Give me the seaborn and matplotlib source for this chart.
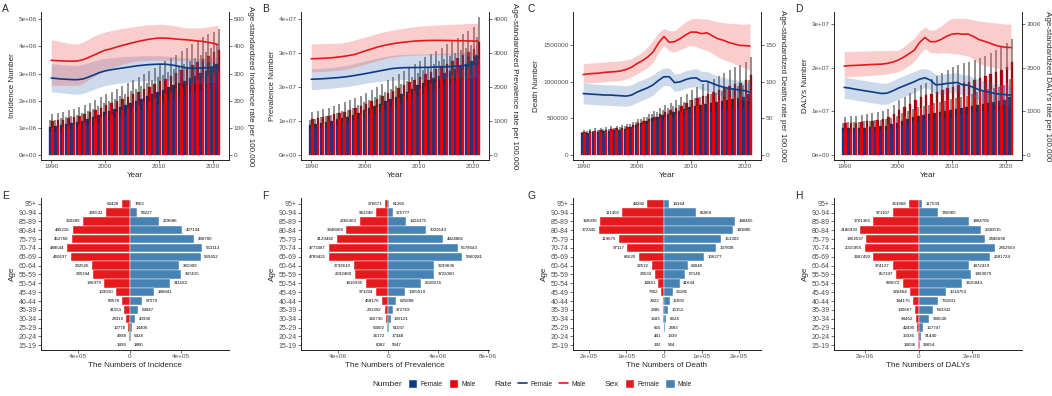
import numpy as np
import pandas as pd
import seaborn as sns
from matplotlib import pyplot as plt
from matplotlib.patches import Patch
from matplotlib.lines import Line2D
from matplotlib.ticker import FuncFormatter

sns.set_theme(style="ticks")
plt.rcParams['font.family'] = ['Liberation Sans', 'DejaVu Sans']
plt.rcParams['axes.linewidth'] = 0.7
plt.rcParams['axes.edgecolor'] = '#222222'

NUM_F, NUM_M = '#0D3B87', '#E8000B'
RATE_F, RATE_M = '#0D3B87', '#E3191C'
SEX_F, SEX_M = '#E41A1C', '#4682B4'

years = list(range(1990, 2022))

# ---- A: incidence (numbers in millions, rates per 100,000)
inc_num_f = [1.04,1.07,1.10,1.13,1.17,1.21,1.26,1.32,1.40,1.49,1.58,1.64,1.70,1.77,1.84,1.92,2.00,2.08,2.16,2.24,2.33,2.41,2.49,2.57,2.65,2.74,2.83,2.92,3.01,3.10,3.22,3.34]
inc_num_f_lo = [0.84,0.86,0.89,0.91,0.94,0.97,1.01,1.06,1.12,1.19,1.26,1.31,1.36,1.42,1.47,1.54,1.60,1.66,1.73,1.79,1.86,1.93,1.99,2.06,2.12,2.19,2.26,2.34,2.41,2.48,2.58,2.67]
inc_num_f_hi = [1.28,1.31,1.35,1.39,1.43,1.48,1.54,1.61,1.71,1.82,1.93,2.00,2.08,2.16,2.25,2.35,2.45,2.55,2.65,2.75,2.86,2.96,3.06,3.16,3.26,3.37,3.48,3.59,3.70,3.81,3.95,4.10]
inc_num_m = [1.25,1.28,1.31,1.35,1.39,1.44,1.50,1.57,1.66,1.75,1.84,1.91,1.98,2.06,2.15,2.24,2.33,2.42,2.51,2.61,2.72,2.82,2.92,3.02,3.12,3.22,3.33,3.44,3.55,3.66,3.78,3.87]
inc_num_m_lo = [1.00,1.02,1.05,1.08,1.11,1.15,1.20,1.26,1.33,1.40,1.47,1.53,1.58,1.65,1.72,1.79,1.86,1.94,2.01,2.09,2.18,2.26,2.34,2.42,2.50,2.58,2.66,2.75,2.84,2.93,3.02,3.10]
inc_num_m_hi = [1.53,1.56,1.60,1.65,1.70,1.76,1.83,1.92,2.03,2.14,2.25,2.34,2.43,2.53,2.64,2.75,2.86,2.97,3.08,3.20,3.34,3.46,3.58,3.70,3.82,3.95,4.08,4.21,4.34,4.47,4.55,4.66]
inc_rate_f = [284,282,280,279,278,278,281,288,296,304,310,314,317,320,323,326,329,331,333,334,335,335,333,330,326,322,320,320,321,322,324,327]
inc_rate_f_lo = [233,231,229,227,225,224,228,235,243,250,256,260,263,266,268,270,272,273,274,275,275,274,272,270,267,265,264,264,265,266,268,270]
inc_rate_f_hi = [337,335,333,331,330,331,335,341,347,352,356,358,360,362,363,364,365,366,366,366,366,365,364,362,360,358,357,357,357,358,359,360]
inc_rate_m = [349,348,347,346,346,347,352,360,369,378,386,391,397,403,408,413,418,422,426,429,431,431,430,428,426,425,423,421,419,416,412,407]
inc_rate_m_lo = [257,257,257,257,257,257,265,278,291,302,312,320,327,333,338,343,346,348,349,349,349,349,349,349,349,348,347,346,345,344,342,340]
inc_rate_m_hi = [425,421,417,413,410,410,417,428,439,447,453,458,462,466,469,472,475,478,480,481,482,481,479,476,472,469,468,468,469,472,475,478]

# ---- B: prevalence (numbers in 1e7)
prev_num_f = [0.88,0.91,0.94,0.97,1.01,1.05,1.09,1.13,1.18,1.25,1.32,1.38,1.44,1.51,1.58,1.65,1.72,1.79,1.86,1.96,2.06,2.13,2.20,2.27,2.34,2.41,2.48,2.55,2.62,2.69,2.76,2.95]
prev_num_f_lo = [0.75,0.77,0.80,0.82,0.86,0.89,0.93,0.96,1.00,1.06,1.12,1.17,1.22,1.28,1.34,1.40,1.46,1.52,1.58,1.67,1.75,1.81,1.87,1.93,1.99,2.05,2.11,2.17,2.23,2.29,2.35,2.51]
prev_num_f_hi = [1.04,1.07,1.11,1.14,1.19,1.24,1.29,1.33,1.39,1.48,1.56,1.63,1.70,1.78,1.86,1.95,2.03,2.11,2.19,2.31,2.43,2.51,2.60,2.68,2.76,2.84,2.93,3.01,3.09,3.17,3.26,3.48]
prev_num_m = [1.05,1.08,1.12,1.16,1.20,1.24,1.28,1.33,1.38,1.45,1.52,1.59,1.66,1.74,1.82,1.90,1.98,2.06,2.14,2.22,2.30,2.38,2.46,2.54,2.62,2.70,2.78,2.86,2.94,3.03,3.13,3.33]
prev_num_m_lo = [0.89,0.92,0.95,0.99,1.02,1.05,1.09,1.13,1.17,1.23,1.29,1.35,1.41,1.48,1.55,1.62,1.68,1.75,1.82,1.89,1.96,2.02,2.09,2.16,2.23,2.30,2.36,2.43,2.50,2.58,2.66,2.83]
prev_num_m_hi = [1.26,1.30,1.35,1.40,1.45,1.50,1.55,1.61,1.67,1.75,1.84,1.92,2.01,2.11,2.20,2.30,2.40,2.49,2.59,2.69,2.78,2.88,2.98,3.07,3.17,3.27,3.36,3.46,3.56,3.67,3.77,4.07]
prev_rate_f = [2235,2240,2250,2260,2272,2285,2300,2320,2345,2372,2400,2430,2460,2490,2520,2550,2565,2575,2580,2582,2583,2585,2590,2595,2600,2605,2610,2620,2635,2655,2678,2700]
prev_rate_f_lo = [1930,1938,1950,1962,1975,1990,2010,2030,2055,2085,2115,2140,2160,2180,2195,2205,2215,2222,2228,2232,2235,2238,2242,2246,2250,2255,2260,2266,2274,2282,2291,2300]
prev_rate_f_hi = [2550,2555,2565,2578,2592,2608,2630,2660,2695,2735,2775,2815,2850,2885,2915,2940,2955,2965,2972,2978,2982,2986,2990,2995,3000,3005,3010,3016,3022,3028,3034,3040]
prev_rate_m = [2840,2845,2852,2860,2873,2890,2910,2935,2965,3015,3070,3120,3170,3215,3250,3280,3305,3325,3342,3358,3370,3376,3380,3382,3382,3380,3378,3375,3372,3368,3364,3360]
prev_rate_m_lo = [2450,2458,2466,2475,2486,2500,2520,2550,2590,2635,2680,2725,2770,2815,2855,2890,2910,2925,2935,2943,2950,2954,2957,2959,2960,2960,2958,2955,2952,2948,2944,2940]
prev_rate_m_hi = [3280,3282,3285,3290,3295,3300,3320,3350,3390,3435,3480,3525,3570,3615,3650,3680,3710,3735,3760,3782,3800,3812,3822,3832,3842,3850,3857,3864,3870,3877,3884,3890]

# ---- C: deaths (numbers in 1e5)
death_num_f = [2.95,3.02,3.09,3.16,3.23,3.31,3.39,3.48,3.60,3.85,4.15,4.40,4.70,5.00,5.25,5.45,5.65,5.85,6.05,6.30,6.55,6.70,6.85,6.95,7.05,7.20,7.35,7.50,7.65,7.80,7.95,8.40]
death_num_f_lo = [2.74,2.80,2.86,2.92,2.98,3.05,3.11,3.19,3.29,3.50,3.76,3.97,4.22,4.47,4.67,4.82,4.97,5.12,5.27,5.45,5.64,5.73,5.81,5.86,5.91,6.00,6.09,6.18,6.26,6.34,6.42,6.72]
death_num_f_hi = [3.17,3.25,3.33,3.41,3.49,3.58,3.68,3.79,3.93,4.22,4.57,4.86,5.21,5.57,5.87,6.12,6.38,6.64,6.90,7.22,7.55,7.76,7.97,8.13,8.29,8.51,8.73,8.96,9.18,9.40,9.62,10.25]
death_num_m = [3.20,3.27,3.34,3.41,3.48,3.56,3.64,3.73,3.86,4.10,4.40,4.65,4.95,5.25,5.60,5.90,6.15,6.45,6.75,7.10,7.50,7.80,8.05,8.30,8.55,8.85,9.10,9.40,9.65,9.90,10.20,10.90]
death_num_m_lo = [2.98,3.04,3.10,3.16,3.22,3.29,3.36,3.43,3.54,3.74,3.99,4.20,4.45,4.70,4.99,5.23,5.43,5.67,5.90,6.18,6.50,6.73,6.91,7.09,7.26,7.48,7.66,7.87,8.04,8.21,8.41,8.93]
death_num_m_hi = [3.45,3.54,3.63,3.72,3.81,3.91,4.01,4.13,4.29,4.58,4.95,5.26,5.63,6.00,6.43,6.82,7.15,7.54,7.93,8.40,8.93,9.34,9.69,10.05,10.40,10.83,11.19,11.61,11.97,12.33,12.75,13.40]
death_rate_f = [84,83.5,83,82.5,82,82,81.5,81,80.5,82,86,89,92,96,102,107,107,99,100,103,105,105.5,101,101,98,95,93,91,90,89,88,86]
death_rate_f_lo = [70,69.5,69,68.5,68,68,67.5,67,66.5,68,72,75,78,82,89,95,95,87,88,91,93,93,89,88,85,82,80,78,77,76,75,73]
death_rate_f_hi = [98,97.5,97,96.5,96,96,95.5,95,94.5,96,100,103,106,110,115,119,119,111,112,115,117,118,114,114,111,108,106,104,103,102,101,99]
death_rate_m = [110,111,111.5,112,113,113.5,114,115,117,120,125,129,134,141,153,162,154,155,159,164,168,168,166,167,163,159,157,154,152,150,149.5,149]
death_rate_m_lo = [98,98.5,99,99.5,100,101,101,102,104,107,111,115,120,127,140,150,142,141,144,147,150,148,145,143,139,134,131,128,125,122,119,116]
death_rate_m_hi = [125,125.5,126,126.5,127,128,128,129,130,132,136,141,148,157,167,173,170,170,176,182,186,187,186,186,184,182,181,180,180,179,179,179]

# ---- D: DALYs (numbers in 1e6)
daly_num_f = [6.10,6.15,6.20,6.25,6.30,6.40,6.50,6.60,6.75,7.00,7.40,7.80,8.20,8.60,8.95,9.20,9.45,9.70,9.90,10.10,10.30,10.50,10.70,10.90,11.20,11.50,11.75,12.00,12.20,12.40,12.60,13.40]
daly_num_f_lo = [5.19,5.23,5.27,5.31,5.36,5.44,5.53,5.61,5.74,5.95,6.29,6.63,6.97,7.31,7.61,7.82,8.03,8.25,8.42,8.59,8.76,8.93,9.10,9.27,9.52,9.78,9.99,10.20,10.37,10.54,10.71,11.39]
daly_num_f_hi = [7.45,7.50,7.56,7.63,7.69,7.81,7.93,8.05,8.24,8.54,9.03,9.52,10.00,10.49,10.92,11.22,11.57,11.93,12.20,12.47,12.75,13.02,13.30,13.58,13.98,14.38,14.72,15.06,15.35,15.64,15.94,17.40]
daly_num_m = [7.25,7.35,7.45,7.55,7.70,7.85,8.05,8.30,8.70,9.40,10.30,11.00,11.80,12.60,13.20,13.70,14.10,14.50,14.90,15.30,15.60,16.00,16.40,16.80,17.20,17.60,18.10,18.60,19.10,19.60,20.20,21.40]
daly_num_m_lo = [5.95,6.03,6.11,6.19,6.31,6.44,6.60,6.81,7.13,7.71,8.45,9.02,9.68,10.33,10.82,11.23,11.56,11.89,12.22,12.55,12.79,13.12,13.45,13.78,14.10,14.43,14.84,15.25,15.66,16.07,16.56,17.55]
daly_num_m_hi = [8.80,8.92,9.04,9.16,9.34,9.53,9.77,10.07,10.56,11.41,12.50,13.35,14.32,15.29,16.02,16.60,17.40,18.20,18.90,19.60,20.20,20.60,21.00,21.40,21.80,22.20,22.80,23.40,24.00,24.80,25.60,26.70]
daly_rate_f = [1550,1535,1510,1490,1470,1450,1430,1410,1420,1470,1530,1580,1630,1680,1740,1770,1720,1610,1620,1640,1650,1665,1610,1600,1550,1500,1465,1440,1410,1395,1385,1375]
daly_rate_f_lo = [1300,1285,1260,1240,1220,1200,1180,1160,1170,1220,1280,1330,1380,1430,1500,1550,1500,1390,1400,1420,1430,1440,1380,1370,1320,1270,1235,1205,1175,1155,1140,1125]
daly_rate_f_hi = [1790,1770,1745,1725,1705,1685,1665,1645,1655,1705,1765,1815,1865,1915,1965,1985,1945,1840,1850,1870,1880,1895,1840,1830,1780,1730,1695,1670,1640,1625,1615,1605]
daly_rate_m = [2040,2050,2055,2060,2068,2075,2080,2085,2100,2130,2175,2240,2320,2400,2580,2695,2600,2600,2650,2720,2770,2785,2770,2775,2720,2650,2610,2570,2520,2490,2470,2465]
daly_rate_m_lo = [1790,1800,1805,1810,1818,1825,1835,1845,1860,1885,1910,1970,2050,2140,2310,2440,2350,2330,2340,2340,2330,2320,2290,2270,2200,2100,2060,2030,2000,1980,1965,1950]
daly_rate_m_hi = [2370,2375,2378,2380,2385,2390,2392,2395,2397,2398,2400,2480,2580,2680,2840,2940,2860,2880,2960,3060,3130,3140,3135,3130,3100,3075,3060,3045,3030,3015,3005,3000]

# ---- age pyramids (2021)
ages = ['95+', '90-94', '85-89', '80-84', '75-79', '70-74', '65-69', '60-64', '55-59',
        '50-54', '45-49', '40-44', '35-39', '30-34', '25-29', '20-24', '15-19']
pyr_inc_f = [63428,185532,360289,445216,452768,488544,460637,292526,285344,196979,109010,58578,41551,28319,10778,4998,1496]
pyr_inc_m = [7863,58227,229686,407134,498700,563113,549452,381909,397415,311162,186841,97579,63847,40930,14406,6424,1800]
pyr_prev_f = [276671,962248,2266363,3348068,4129482,4773387,4789421,2739610,2692460,1816935,973204,458176,291392,166736,53002,16172,6082]
pyr_prev_m = [61265,375777,1424375,3029143,4424881,5578643,5960281,3699636,3722060,2628274,1365019,625898,372769,199121,61037,17348,5947]
pyr_death_f = [44282,111302,168936,172345,119675,97117,66620,32532,24533,14841,7302,3922,2385,1583,655,441,192]
pyr_death_m = [14164,85069,188455,183885,151303,137808,106277,63040,57146,41634,23185,15091,10151,6624,2483,1339,544]
pyr_daly_f = [363968,971107,1701365,2186930,1962537,2015958,1687492,974127,857347,589072,326464,194175,130667,94462,42495,30336,14036]
pyr_daly_m = [117539,740965,1884706,2330515,2486690,2852659,2681724,1872419,1969079,1625043,1014753,731831,543332,386536,157747,91440,39654]

TICK_KW = dict(labelsize=4.6, labelcolor='#4D4D4D', length=2, width=0.5, pad=1.2, color='#333333')


def sci(v, pos=None):
    if v == 0:
        return '0e+00'
    return f"{abs(v):.0e}"


def sci_abs(v, pos=None):
    if v == 0:
        return '0'
    return f"{abs(v):.0e}"


def plain(v, pos=None):
    return f"{int(round(v))}"


def trend_panel(ax, scale, num, rate, ylabel, rlabel, ylim, yticks, rticks, yfmt):
    nf, nf_lo, nf_hi, nm, nm_lo, nm_hi = [np.array(a) * scale for a in num]
    rf, rf_lo, rf_hi, rm, rm_lo, rm_hi = rate
    yrs = np.array(years)
    df = pd.DataFrame({'year': years * 2, 'value': np.r_[nf, nm],
                       'sex': ['Female'] * len(years) + ['Male'] * len(years)})
    sns.barplot(data=df, x='year', y='value', hue='sex', hue_order=['Female', 'Male'],
                palette=[NUM_F, NUM_M], native_scale=True, errorbar=None, saturation=1,
                width=0.92, linewidth=0, legend=False, ax=ax)
    # fill the sub-pixel gaps between neighbouring bars
    for p in ax.patches:
        p.set_edgecolor(p.get_facecolor())
        p.set_linewidth(0.25)
    ax.vlines(yrs - 0.23, nf_lo, nf_hi, color='#262626', alpha=0.65, lw=1.1)
    ax.vlines(yrs + 0.23, nm_lo, nm_hi, color='#262626', alpha=0.65, lw=1.1)
    ax.set_xlim(1988.1, 2023.05)
    ax.set_ylim(*ylim)
    ax.set_xticks([1990, 2000, 2010, 2020])
    ax.set_yticks(yticks)
    ax.yaxis.set_major_formatter(FuncFormatter(yfmt))
    ax.set_xlabel('Year', fontsize=5.8, labelpad=1.5)
    ax.set_ylabel(ylabel, fontsize=5.8, labelpad=2)
    ax.tick_params(**TICK_KW)
    ax.spines['top'].set_visible(False)
    ax.spines['right'].set_visible(False)

    ax2 = ax.twinx()
    ax2.fill_between(yrs, rf_lo, rf_hi, color='#3A6DB5', alpha=0.25, lw=0)
    ax2.fill_between(yrs, rm_lo, rm_hi, color='#F05A5C', alpha=0.3, lw=0)
    sns.lineplot(x=yrs, y=rf, color=RATE_F, lw=1.2, ax=ax2)
    sns.lineplot(x=yrs, y=rm, color=RATE_M, lw=1.2, ax=ax2)
    ax2.set_ylim(ylim[0] / 1e4, ylim[1] / 1e4)
    ax2.set_yticks(rticks)
    ax2.yaxis.set_major_formatter(FuncFormatter(plain))
    ax2.set_ylabel(rlabel, fontsize=5.8, rotation=270, va='bottom', labelpad=2)
    ax2.tick_params(**TICK_KW)
    for s in ['top', 'left', 'bottom']:
        ax2.spines[s].set_visible(False)
    ax2.grid(False)
    ax.grid(False)


def pyramid_panel(ax, f, m, xlim, xticks, xlabel):
    df = pd.DataFrame({'age': ages * 2, 'value': [-v for v in f] + list(m),
                       'sex': ['Female'] * len(ages) + ['Male'] * len(ages)})
    sns.barplot(data=df, y='age', x='value', hue='sex', order=ages, hue_order=['Female', 'Male'],
                palette=[SEX_F, SEX_M], dodge=False, saturation=1, width=0.94, errorbar=None,
                edgecolor='white', linewidth=0.3, legend=False, orient='h', ax=ax)
    for i in range(len(ages)):
        ax.annotate(str(f[i]), xy=(-f[i], i), xytext=(-2, 0), textcoords='offset points',
                    ha='right', va='center', fontsize=3.2, color='black')
        ax.annotate(str(m[i]), xy=(m[i], i), xytext=(2.5, 0), textcoords='offset points',
                    ha='left', va='center', fontsize=3.2, color='black')
    ax.set_xlim(*xlim)
    ax.set_ylim(16.53, -0.64)
    ax.set_xticks(xticks)
    ax.xaxis.set_major_formatter(FuncFormatter(sci_abs))
    ax.set_xlabel(xlabel, fontsize=5.8, labelpad=1.5)
    ax.set_ylabel('Age', fontsize=5.8, labelpad=1.5)
    ax.tick_params(**TICK_KW)
    ax.tick_params(axis='y', labelsize=5.0)
    ax.spines['top'].set_visible(False)
    ax.spines['right'].set_visible(False)
    ax.grid(False)


W, H = 1052, 396
fig = plt.figure(figsize=(W / 100, H / 100), dpi=100)
cols = [(41, 229), (301, 489), (573, 761), (834, 1022)]


def px_axes(x0, x1, ytop, ybot):
    return fig.add_axes([x0 / W, 1 - ybot / H, (x1 - x0) / W, (ybot - ytop) / H])


top_axes = [px_axes(x0, x1, 12, 160) for x0, x1 in cols]
bot_axes = [px_axes(x0, x1, 198, 350) for x0, x1 in cols]

trend_panel(top_axes[0], 1e6,
            [inc_num_f, inc_num_f_lo, inc_num_f_hi, inc_num_m, inc_num_m_lo, inc_num_m_hi],
            [inc_rate_f, inc_rate_f_lo, inc_rate_f_hi, inc_rate_m, inc_rate_m_lo, inc_rate_m_hi],
            'Incidence Number', 'Age-standardized Incidence rate per 100,000',
            (-1.8e5, 5.27e6), [0, 1e6, 2e6, 3e6, 4e6, 5e6], [0, 100, 200, 300, 400, 500], sci)
trend_panel(top_axes[1], 1e7,
            [prev_num_f, prev_num_f_lo, prev_num_f_hi, prev_num_m, prev_num_m_lo, prev_num_m_hi],
            [prev_rate_f, prev_rate_f_lo, prev_rate_f_hi, prev_rate_m, prev_rate_m_lo, prev_rate_m_hi],
            'Prevalence Number', 'Age-standardized Prevalence rate per 100,000',
            (-1.47e6, 4.22e7), [0, 1e7, 2e7, 3e7, 4e7], [0, 1000, 2000, 3000, 4000], sci)
trend_panel(top_axes[2], 1e5,
            [death_num_f, death_num_f_lo, death_num_f_hi, death_num_m, death_num_m_lo, death_num_m_hi],
            [death_rate_f, death_rate_f_lo, death_rate_f_hi, death_rate_m, death_rate_m_lo, death_rate_m_hi],
            'Death Number', 'Age-standardized Deaths rate per 100,000',
            (-6.8e4, 1.955e6), [0, 5e5, 1e6, 1.5e6], [0, 50, 100, 150], plain)
trend_panel(top_axes[3], 1e6,
            [daly_num_f, daly_num_f_lo, daly_num_f_hi, daly_num_m, daly_num_m_lo, daly_num_m_hi],
            [daly_rate_f, daly_rate_f_lo, daly_rate_f_hi, daly_rate_m, daly_rate_m_lo, daly_rate_m_hi],
            "DALYs Number", "Age-standardized DALYs rate per 100,000",
            (-1.15e6, 3.28e7), [0, 1e7, 2e7, 3e7], [0, 1000, 2000, 3000], sci)

pyramid_panel(bot_axes[0], pyr_inc_f, pyr_inc_m, (-6.9e5, 7.7e5), [-4e5, 0, 4e5],
              'The Numbers of Incidence')
pyramid_panel(bot_axes[1], pyr_prev_f, pyr_prev_m, (-7.0e6, 8.1e6), [-4e6, 0, 4e6, 8e6],
              'The Numbers of Prevalence')
pyramid_panel(bot_axes[2], pyr_death_f, pyr_death_m, (-2.42e5, 2.58e5),
              [-2e5, -1e5, 0, 1e5, 2e5], 'The Numbers of Death')
pyramid_panel(bot_axes[3], pyr_daly_f, pyr_daly_m, (-3.16e6, 3.86e6), [-2e6, 0, 2e6],
              'The Numbers of DALYs')

# panel letters
for lab, xp, yp in [('A', 2, 4), ('B', 262, 4), ('C', 527, 4), ('D', 795, 4),
                    ('E', 2, 191), ('F', 262, 191), ('G', 527, 191), ('H', 795, 191)]:
    fig.text(xp / W, 1 - yp / H, lab, fontsize=7.4, va='top', ha='left')

# combined legend
blank = Patch(visible=False)
handles = [blank, Patch(fc=NUM_F), Patch(fc=NUM_M),
           blank, Line2D([], [], color=RATE_F, lw=1.2), Line2D([], [], color=RATE_M, lw=1.2),
           blank, Patch(fc=SEX_F), Patch(fc=SEX_M)]
labels = ['Number', 'Female', 'Male', 'Rate', 'Female', 'Male', 'Sex', 'Female', 'Male']
leg = fig.legend(handles, labels, ncol=9, loc='center', bbox_to_anchor=(0.5, 0.031),
                 frameon=False, fontsize=4.8, handlelength=1.4, handleheight=1.7,
                 columnspacing=0.9, handletextpad=0.5)
for t in leg.get_texts():
    if t.get_text() in ('Number', 'Rate', 'Sex'):
        t.set_fontsize(6.0)

fig.savefig('out.png', dpi=100)
